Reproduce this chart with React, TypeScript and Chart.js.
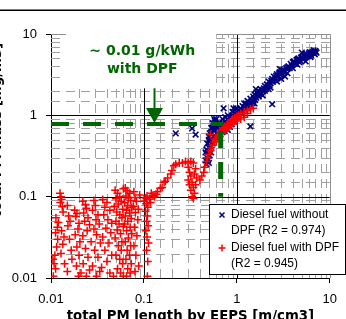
import React, { useEffect, useRef } from "react";
import { Chart, registerables } from "chart.js";

Chart.register(...registerables);

// ---- data ----
const withoutDpf: [number, number][] = [
  [0.22, 0.6], [0.33, 0.69], [0.36, 0.58], [0.51, 0.6], [0.5, 0.5],
  [0.47, 0.25], [0.48, 0.3], [0.46, 0.35], [0.5, 0.4], [0.48, 0.45], [0.52, 0.5], [0.5, 0.55],
  [0.54, 0.6], [0.53, 0.7], [0.56, 0.75], [0.55, 0.8], [0.58, 0.85], [0.57, 0.65], [0.49, 0.28],
  [0.51, 0.32], [0.47, 0.38], [0.52, 0.42],
  [0.46, 0.28], [0.5, 0.26], [0.53, 0.35], [0.49, 0.36], [0.55, 0.45], [0.51, 0.47], [0.56, 0.55],
  [0.53, 0.62], [0.58, 0.68], [0.6, 0.75], [0.57, 0.9], [0.55, 0.7], [0.6, 0.9],
  [0.6, 0.6], [0.62, 0.7], [0.65, 0.65], [0.68, 0.72], [0.7, 0.8], [0.72, 0.68], [0.75, 0.85],
  [0.78, 0.78], [0.8, 0.9], [0.82, 0.75], [0.85, 0.95], [0.9, 1.0], [0.92, 0.85], [0.95, 1.05],
  [1.0, 1.1], [1.05, 1.0], [1.1, 1.2], [1.15, 1.3], [1.2, 1.25], [1.25, 1.4], [1.3, 1.5],
  [1.35, 1.45], [1.4, 1.6], [1.5, 1.7], [1.55, 1.8], [1.6, 1.75], [1.65, 1.9], [1.7, 2.0],
  [1.75, 1.85], [1.8, 2.1], [1.9, 2.0], [2.0, 2.3], [2.1, 2.4], [2.2, 2.6], [2.3, 2.5],
  [2.4, 2.8], [2.5, 3.0], [2.6, 2.9], [2.7, 3.2], [2.8, 3.1], [2.9, 3.4], [3.0, 3.3],
  [3.1, 3.5], [3.2, 3.6], [3.4, 3.8], [3.6, 4.0], [3.8, 4.3], [4.0, 4.5], [4.2, 4.4],
  [4.4, 4.8], [4.6, 5.0], [4.8, 4.7], [5.0, 5.2], [5.3, 5.0], [5.5, 5.5], [5.8, 5.3],
  [6.0, 5.8], [6.3, 5.5], [6.6, 6.0], [7.0, 6.2], [6.8, 5.8], [7.2, 5.9], [5.5, 4.6],
  [4.0, 3.8], [3.0, 2.8], [2.0, 2.0], [1.5, 1.5], [2.2, 2.1], [2.7, 2.6], [3.5, 3.3],
  [4.5, 4.2], [1.2, 1.4], [1.0, 1.2], [0.9, 1.1], [0.75, 0.95], [0.65, 0.8], [0.7, 0.9],
  [0.8, 1.0], [2.4, 1.37], [1.4, 0.73], [0.98, 1.22], [0.72, 1.22], [0.92, 1.22],
  [0.62, 0.52], [0.66, 0.58], [0.7, 0.62], [0.74, 0.64], [0.77, 0.7], [0.8, 0.66], [0.84, 0.72],
  [0.88, 0.78], [0.91, 0.95], [0.96, 0.9], [1.02, 0.95], [1.06, 1.15], [1.12, 1.05], [1.16, 1.12],
  [1.22, 1.18], [1.27, 1.3], [1.32, 1.25], [1.38, 1.35], [1.45, 1.5], [1.48, 1.4], [1.52, 1.6],
  [1.58, 1.55], [1.62, 1.65], [1.68, 1.8], [1.72, 1.7], [1.78, 1.95], [1.83, 1.9], [1.87, 2.05],
  [1.95, 2.15], [2.05, 2.1], [2.15, 2.25], [2.25, 2.35], [2.35, 2.65], [2.45, 2.6], [2.55, 2.75],
  [2.65, 3.05], [2.75, 2.95], [2.85, 3.3], [2.95, 3.15], [3.05, 3.6], [3.15, 3.4], [3.3, 3.5],
  [3.5, 3.9], [3.7, 3.8], [3.9, 4.1], [4.1, 4.6], [4.3, 4.3], [4.5, 4.9], [4.7, 4.5], [4.9, 5.1],
  [5.1, 4.9], [5.2, 5.4], [5.4, 5.2], [5.6, 5.7], [5.9, 5.6], [6.1, 6.0], [6.4, 5.9], [6.7, 6.3],
  [6.9, 5.6], [7.1, 6.0], [6.2, 5.2], [1.55, 1.4], [1.9, 1.75], [2.3, 2.2], [1.3, 1.35],
  [1.1, 1.1], [0.97, 0.98], [0.86, 0.88], [1.6, 2.1], [2.9, 3.7], [5.0, 5.9], [3.3, 3.0],
];

const withDpf: [number, number][] = [
  // low-emission cloud
  [0.0105, 0.017], [0.0108, 0.015], [0.011, 0.019], [0.0112, 0.013], [0.0106, 0.0105],
  [0.0115, 0.024], [0.0118, 0.03], [0.0112, 0.036], [0.0117, 0.042], [0.012, 0.048], [0.0113, 0.055],
  [0.0125, 0.11], [0.0128, 0.1], [0.013, 0.092], [0.0126, 0.085], [0.0132, 0.075], [0.0135, 0.065],
  [0.013, 0.038], [0.0138, 0.032], [0.0134, 0.026], [0.0128, 0.02], [0.014, 0.015],
  [0.015, 0.078], [0.0155, 0.058], [0.016, 0.05], [0.0152, 0.044], [0.0158, 0.03], [0.0165, 0.022],
  [0.015, 0.012], [0.0168, 0.017],
  [0.018, 0.068], [0.019, 0.062], [0.0185, 0.057], [0.02, 0.047], [0.0195, 0.04], [0.0182, 0.034],
  [0.0205, 0.028], [0.019, 0.024], [0.02, 0.019], [0.0188, 0.014], [0.021, 0.0115], [0.0198, 0.0105],
  [0.022, 0.088], [0.0235, 0.08], [0.024, 0.072], [0.0225, 0.063], [0.025, 0.055], [0.023, 0.05],
  [0.026, 0.045], [0.0245, 0.038], [0.022, 0.033], [0.027, 0.028], [0.0235, 0.023], [0.025, 0.018],
  [0.0222, 0.015], [0.026, 0.0125], [0.024, 0.0105],
  [0.029, 0.09], [0.03, 0.078], [0.028, 0.068], [0.032, 0.06], [0.0305, 0.052], [0.033, 0.046],
  [0.029, 0.04], [0.031, 0.034], [0.034, 0.027], [0.0295, 0.022], [0.032, 0.018], [0.028, 0.014],
  [0.0335, 0.012], [0.031, 0.0105],
  [0.036, 0.092], [0.04, 0.085], [0.038, 0.074], [0.043, 0.068], [0.037, 0.06], [0.041, 0.052],
  [0.045, 0.047], [0.039, 0.041], [0.044, 0.036], [0.036, 0.032], [0.042, 0.027], [0.038, 0.022],
  [0.045, 0.019], [0.04, 0.016], [0.035, 0.0135], [0.043, 0.0115], [0.047, 0.0105],
  [0.049, 0.12], [0.052, 0.11], [0.055, 0.1], [0.05, 0.094], [0.057, 0.088], [0.053, 0.081],
  [0.048, 0.075], [0.059, 0.07], [0.051, 0.065], [0.055, 0.06], [0.058, 0.055], [0.05, 0.05],
  [0.054, 0.046], [0.06, 0.043], [0.052, 0.039], [0.056, 0.035], [0.049, 0.031], [0.058, 0.028],
  [0.053, 0.025], [0.057, 0.022], [0.05, 0.019], [0.055, 0.017], [0.059, 0.015], [0.052, 0.013],
  [0.056, 0.0115], [0.06, 0.0105], [0.06, 0.125],
  [0.063, 0.128], [0.066, 0.118], [0.07, 0.11], [0.064, 0.102], [0.068, 0.096], [0.072, 0.09],
  [0.062, 0.084], [0.067, 0.078], [0.074, 0.073], [0.065, 0.068], [0.07, 0.063], [0.063, 0.058],
  [0.073, 0.054], [0.067, 0.05], [0.062, 0.046], [0.071, 0.042], [0.065, 0.038], [0.074, 0.035],
  [0.068, 0.031], [0.063, 0.028], [0.072, 0.025], [0.066, 0.022], [0.07, 0.019], [0.064, 0.017],
  [0.073, 0.015], [0.067, 0.013], [0.071, 0.0115], [0.065, 0.0105],
  [0.078, 0.115], [0.08, 0.098], [0.083, 0.088], [0.077, 0.076], [0.081, 0.064], [0.086, 0.052],
  [0.079, 0.042], [0.084, 0.033], [0.078, 0.025], [0.082, 0.019], [0.088, 0.014], [0.08, 0.012],
  [0.09, 0.105], [0.087, 0.07],
  [0.1, 0.088], [0.104, 0.096], [0.108, 0.102], [0.106, 0.082], [0.11, 0.074], [0.104, 0.066],
  [0.109, 0.058], [0.107, 0.05], [0.111, 0.044], [0.105, 0.038], [0.108, 0.032], [0.112, 0.027],
  [0.107, 0.022], [0.11, 0.016], [0.109, 0.0105], [0.115, 0.093], [0.12, 0.11], [0.125, 0.104],
  [0.118, 0.085],
  // rising curve
  [0.13, 0.1], [0.135, 0.107], [0.14, 0.115], [0.15, 0.127], [0.157, 0.13], [0.165, 0.15],
  [0.17, 0.155], [0.18, 0.17], [0.195, 0.19], [0.2, 0.21], [0.21, 0.24], [0.22, 0.25],
  [0.24, 0.26], [0.26, 0.26], [0.28, 0.27], [0.3, 0.26], [0.32, 0.27], [0.34, 0.26],
  [0.3, 0.23], [0.31, 0.2], [0.32, 0.18], [0.3, 0.16], [0.33, 0.15], [0.31, 0.14], [0.34, 0.13],
  [0.32, 0.12], [0.35, 0.11], [0.33, 0.1], [0.34, 0.095], [0.36, 0.14], [0.37, 0.17], [0.35, 0.19],
  [0.36, 0.22],
  [0.4, 0.16], [0.42, 0.18], [0.44, 0.2], [0.45, 0.23], [0.47, 0.27], [0.48, 0.3], [0.5, 0.33],
  [0.52, 0.37], [0.53, 0.4], [0.55, 0.43], [0.57, 0.47], [0.58, 0.5], [0.6, 0.52], [0.62, 0.55],
  [0.64, 0.58], [0.52, 0.58], [0.6, 0.48], [0.65, 0.55],
  // upper band
  [0.66, 0.63], [0.7, 0.66], [0.72, 0.7], [0.75, 0.72], [0.78, 0.75], [0.8, 0.8], [0.85, 0.82],
  [0.88, 0.87], [0.9, 0.9], [0.95, 0.93], [1.0, 0.97], [1.05, 1.0], [1.1, 1.05], [1.2, 1.1],
  [1.3, 1.15], [1.4, 1.2], [1.5, 1.22], [0.7, 0.6], [0.75, 0.65], [0.8, 0.7], [0.9, 0.8],
  [1.0, 0.85], [1.1, 0.9], [1.2, 0.95], [0.85, 0.75], [0.95, 0.85], [1.3, 1.05], [0.78, 0.69],
];

const xTickValues = [0.01, 0.1, 1, 10];
const xTickLabels = ["0.01", "0.1", "1", "10"];
const yTickValues = [0.01, 0.1, 1, 10];
const yTickLabels = ["0.01", "0.1", "1", "10"];
const xTitle = "total PM length by EEPS [m/cm3]";
const yTitle = "total PM mass [mg/m3]";
const legendEntries = [
  { lines: ["Diesel fuel without", "DPF (R2 = 0.974)"], color: "#000080", marker: "x" },
  { lines: ["Diesel fuel with DPF", "(R2 = 0.945)"], color: "#ff0000", marker: "+" },
];
const annotationLines = ["~ 0.01 g/kWh", "with DPF"];
const limitY = 0.78;
const limitXEnd = 0.72;
const limitX = 0.67;
const limitXTop = 0.64;
const arrowX = 0.13;
const arrowTop = 2.15;
const textX = 0.096;
const textY = [6.1, 3.7];
const boxX = [0.0145, 0.6];
const boxY = [2.15, 10];

const GREEN = "#006600";

const isDecade = (v: number) => Math.abs(Math.log10(v) - Math.round(Math.log10(v))) < 1e-6;

const decorPlugin = {
  id: "decor",
  beforeDraw(chart: any) {
    const ctx = chart.ctx;
    ctx.save();
    ctx.fillStyle = "#ffffff";
    ctx.fillRect(0, 0, chart.width, chart.height);
    ctx.restore();
  },
  beforeDatasetsDraw(chart: any) {
    const ctx = chart.ctx;
    const { left, right, top, bottom } = chart.chartArea;
    const xs = chart.scales.x;
    const ys = chart.scales.y;
    ctx.save();
    // minor grid
    ctx.lineWidth = 1;
    ctx.strokeStyle = "#a0a0a0";
    ctx.setLineDash([9, 6]);
    xs.ticks.forEach((t: any) => {
      if (isDecade(t.value)) return;
      const px = Math.round(xs.getPixelForValue(t.value)) + 0.5;
      ctx.beginPath();
      ctx.moveTo(px, bottom);
      ctx.lineTo(px, top);
      ctx.stroke();
    });
    ys.ticks.forEach((t: any) => {
      if (isDecade(t.value)) return;
      const py = Math.round(ys.getPixelForValue(t.value)) + 0.5;
      ctx.beginPath();
      ctx.moveTo(left, py);
      ctx.lineTo(right, py);
      ctx.stroke();
    });
    // major grid
    ctx.setLineDash([]);
    ctx.strokeStyle = "#000000";
    xTickValues.slice(1, -1).forEach((v) => {
      const px = Math.round(xs.getPixelForValue(v)) + 0.5;
      ctx.beginPath();
      ctx.moveTo(px, bottom);
      ctx.lineTo(px, top);
      ctx.stroke();
    });
    yTickValues.slice(1, -1).forEach((v) => {
      const py = Math.round(ys.getPixelForValue(v)) + 0.5;
      ctx.beginPath();
      ctx.moveTo(left, py);
      ctx.lineTo(right, py);
      ctx.stroke();
    });
    // plot border top/right
    ctx.strokeStyle = "#909090";
    ctx.beginPath();
    ctx.moveTo(left, Math.round(top) + 0.5);
    ctx.lineTo(Math.round(right) + 0.5, Math.round(top) + 0.5);
    ctx.lineTo(Math.round(right) + 0.5, bottom);
    ctx.stroke();
    // white annotation box
    const bx0 = xs.getPixelForValue(boxX[0]);
    const bx1 = xs.getPixelForValue(boxX[1]);
    const by0 = ys.getPixelForValue(boxY[1]) - 2;
    const by1 = ys.getPixelForValue(boxY[0]);
    ctx.fillStyle = "#ffffff";
    ctx.fillRect(bx0, by0, bx1 - bx0, by1 - by0);
    // annotation text
    ctx.fillStyle = GREEN;
    ctx.font = "bold 14px 'DejaVu Sans'";
    ctx.textAlign = "center";
    ctx.textBaseline = "middle";
    annotationLines.forEach((s, i) => {
      ctx.fillText(s, xs.getPixelForValue(textX), ys.getPixelForValue(textY[i]));
    });
    ctx.restore();
  },
  afterDatasetsDraw(chart: any) {
    const ctx = chart.ctx;
    const { left } = chart.chartArea;
    const xs = chart.scales.x;
    const ys = chart.scales.y;
    ctx.save();
    // green limit lines
    ctx.strokeStyle = GREEN;
    ctx.lineWidth = 4;
    ctx.setLineDash([18, 14]);
    const ly = ys.getPixelForValue(limitY);
    ctx.beginPath();
    ctx.moveTo(left, ly);
    ctx.lineTo(xs.getPixelForValue(limitXEnd), ly);
    ctx.stroke();
    ctx.lineWidth = 5;
    ctx.setLineDash([17, 14]);
    const lx = xs.getPixelForValue(limitX);
    ctx.beginPath();
    ctx.moveTo(lx, ys.getPixelForValue(limitXTop));
    ctx.lineTo(lx, ys.getPixelForValue(0.1));
    ctx.stroke();
    // arrow
    ctx.setLineDash([]);
    const ax = xs.getPixelForValue(arrowX);
    const aTop = ys.getPixelForValue(arrowTop);
    const aTip = ly - 1;
    ctx.lineWidth = 2;
    ctx.beginPath();
    ctx.moveTo(ax, aTop);
    ctx.lineTo(ax, aTip - 12);
    ctx.stroke();
    ctx.fillStyle = GREEN;
    ctx.beginPath();
    ctx.moveTo(ax - 8.5, aTip - 15);
    ctx.lineTo(ax + 8.5, aTip - 15);
    ctx.lineTo(ax, aTip);
    ctx.closePath();
    ctx.fill();

    // legend
    const lgX = 209.5, lgY = 204.5, lgW = 136, lgH = 70;
    ctx.fillStyle = "#ffffff";
    ctx.fillRect(lgX, lgY, lgW, lgH);
    ctx.strokeStyle = "#000000";
    ctx.lineWidth = 1;
    ctx.strokeRect(lgX, lgY, lgW, lgH);
    ctx.font = "12px 'Liberation Sans'";
    ctx.textAlign = "left";
    ctx.textBaseline = "middle";
    let yy = 215;
    legendEntries.forEach((e) => {
      const mx = 222;
      ctx.strokeStyle = e.color;
      ctx.lineWidth = 1.5;
      ctx.beginPath();
      if (e.marker === "x") {
        ctx.moveTo(mx - 2.5, yy - 2.5); ctx.lineTo(mx + 2.5, yy + 2.5);
        ctx.moveTo(mx + 2.5, yy - 2.5); ctx.lineTo(mx - 2.5, yy + 2.5);
      } else {
        ctx.moveTo(mx - 3.5, yy); ctx.lineTo(mx + 3.5, yy);
        ctx.moveTo(mx, yy - 3.5); ctx.lineTo(mx, yy + 3.5);
      }
      ctx.stroke();
      ctx.fillStyle = "#000000";
      e.lines.forEach((s, i) => ctx.fillText(s, 231, yy + i * 16));
      yy += 33;
    });

    // titles
    ctx.fillStyle = "#000000";
    ctx.font = "bold 13.3px 'DejaVu Sans'";
    ctx.textAlign = "center";
    ctx.textBaseline = "alphabetic";
    ctx.fillText(xTitle, (chart.chartArea.left + chart.chartArea.right) / 2, 320);
    ctx.save();
    ctx.translate(0.5, 130);
    ctx.rotate(-Math.PI / 2);
    ctx.fillText(yTitle, 0, 0);
    ctx.restore();

    // outer frame line
    ctx.strokeStyle = "#000000";
    ctx.lineWidth = 1.5;
    ctx.beginPath();
    ctx.moveTo(0, 10.25);
    ctx.lineTo(chart.width, 10.25);
    ctx.stroke();
    ctx.restore();
  },
};

export default function App() {
  const ref = useRef<HTMLCanvasElement | null>(null);
  useEffect(() => {
    if (!ref.current) return;
    const labelFor = (vals: number[], labels: string[]) => (v: any) => {
      const i = vals.findIndex((t) => Math.abs(t - Number(v)) / t < 1e-6);
      return i >= 0 ? labels[i] : "";
    };
    const chart = new Chart(ref.current, {
      type: "scatter",
      data: {
        datasets: [
          {
            label: "Diesel fuel without DPF (R2 = 0.974)",
            data: withoutDpf.map(([x, y]) => ({ x, y })),
            pointStyle: "crossRot",
            radius: 4,
            borderWidth: 1.6,
            borderColor: "#000080",
            backgroundColor: "#000080",
            order: 2,
          },
          {
            label: "Diesel fuel with DPF (R2 = 0.945)",
            data: withDpf.map(([x, y]) => ({ x, y })),
            pointStyle: "cross",
            radius: 4,
            borderWidth: 1.5,
            borderColor: "#ff0000",
            backgroundColor: "#ff0000",
            order: 1,
          },
        ],
      },
      options: {
        responsive: false,
        animation: false,
        events: [],
        layout: { padding: { left: 0, top: 34, right: 14, bottom: 0 } },
        plugins: { legend: { display: false }, tooltip: { enabled: false }, title: { display: false } },
        scales: {
          x: {
            type: "logarithmic",
            min: 0.01,
            max: 10,
            afterFit: (s: any) => { s.height = 41; },
            grid: {
              display: true,
              drawOnChartArea: false,
              drawTicks: true,
              tickLength: 5,
              tickColor: (c: any) => (c.tick && isDecade(c.tick.value) ? "#000000" : "rgba(0,0,0,0)"),
            },
            border: { display: true, color: "#000000", width: 1 },
            ticks: {
              autoSkip: false,
              maxRotation: 0,
              padding: 9,
              color: "#000000",
              font: { family: "'Liberation Sans'", size: 13 },
              callback: labelFor(xTickValues, xTickLabels),
            },
          },
          y: {
            type: "logarithmic",
            min: 0.01,
            max: 10,
            afterFit: (s: any) => { s.width = 51; },
            grid: {
              display: true,
              drawOnChartArea: false,
              drawTicks: true,
              tickLength: 5,
              tickColor: (c: any) => (c.tick && isDecade(c.tick.value) ? "#000000" : "rgba(0,0,0,0)"),
            },
            border: { display: true, color: "#000000", width: 1 },
            ticks: {
              autoSkip: false,
              padding: 9,
              color: "#000000",
              font: { family: "'Liberation Sans'", size: 13 },
              callback: labelFor(yTickValues, yTickLabels),
            },
          },
        },
      },
      plugins: [decorPlugin],
    } as any);
    return () => chart.destroy();
  }, []);
  return (
    <div style={{ position: "fixed", left: 0, top: 0, width: 346, height: 319, background: "#fff" }}>
      <canvas ref={ref} width={346} height={319} style={{ display: "block", width: 346, height: 319 }} />
    </div>
  );
}
